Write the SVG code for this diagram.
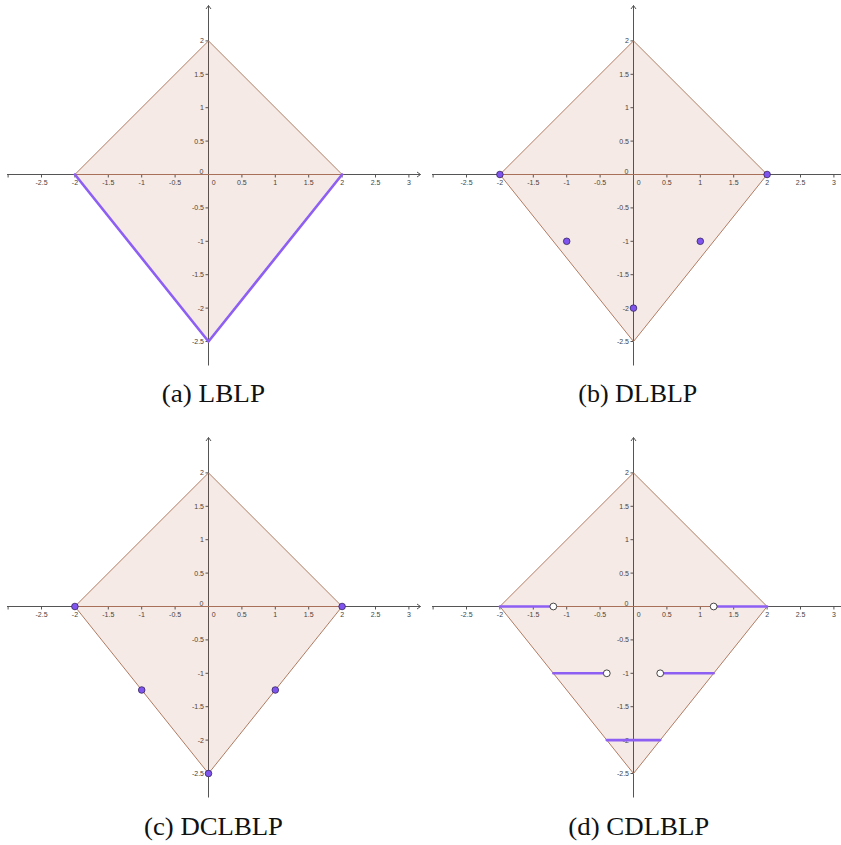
<svg xmlns="http://www.w3.org/2000/svg" width="841" height="845" viewBox="0 0 841 845">
<style>
.ax{stroke:#555;stroke-width:1;fill:none}
.tk{font-family:"Liberation Sans",Arial,sans-serif;font-size:7px;fill:#444}
.xl{text-anchor:middle}
.yl{text-anchor:end}
.poly{fill:rgba(153,51,0,0.1);stroke:#b07c63;stroke-width:1;stroke-linejoin:round}
.edge{stroke:#a87058;stroke-width:1}
.pl{stroke:#8d5ff2;stroke-width:2.6;fill:none;stroke-linecap:round;stroke-linejoin:round}
.pt{fill:#8055ef;stroke:#352560;stroke-width:0.8}
.op{fill:#fff;stroke:#333;stroke-width:0.9}
.cap{font-family:"Liberation Serif","Times New Roman",serif;font-size:25px;fill:#111}
</style>
<rect width="841" height="845" fill="#fff"/>

<g id="panel-a" transform="translate(208.5,174.5)">
<g class="ax">
<line x1="-201.5" y1="0" x2="212" y2="0"/>
<polyline points="208.5,-2.5 212,0 208.5,2.5"/>
<line x1="0" y1="-169" x2="0" y2="191"/>
<polyline points="-2.5,-165.5 0,-169 2.5,-165.5"/>
<path d="M-200.4 0v3M-167 0v3M-133.6 0v3M-100.2 0v3M-66.8 0v3M-33.4 0v3M33.4 0v3M66.8 0v3M100.2 0v3M133.6 0v3M167 0v3M200.4 0v3M0 -133.6h-3M0 -100.2h-3M0 -66.8h-3M0 -33.4h-3M0 33.4h-3M0 66.8h-3M0 100.2h-3M0 133.6h-3M0 167h-3"/>
</g>
<g class="tk xl">
<text x="-167" y="10">-2.5</text><text x="-133.6" y="10">-2</text><text x="-100.2" y="10">-1.5</text><text x="-66.8" y="10">-1</text><text x="-33.4" y="10">-0.5</text><text x="5.2" y="10">0</text><text x="33.4" y="10">0.5</text><text x="66.8" y="10">1</text><text x="100.2" y="10">1.5</text><text x="133.6" y="10">2</text><text x="167" y="10">2.5</text><text x="200.4" y="10">3</text>
</g>
<g class="tk yl">
<text x="-4.5" y="-131.1">2</text><text x="-4.5" y="-97.7">1.5</text><text x="-4.5" y="-64.3">1</text><text x="-4.5" y="-30.9">0.5</text><text x="-5" y="-1">0</text><text x="-4.5" y="35.9">-0.5</text><text x="-4.5" y="69.3">-1</text><text x="-4.5" y="102.7">-1.5</text><text x="-4.5" y="136.1">-2</text><text x="-4.5" y="169.5">-2.5</text>
</g>
<path class="poly" d="M-133.6 0L0 -133.6L133.6 0L0 167Z"/>
<line class="edge" x1="-133.6" y1="0" x2="133.6" y2="0"/>
<polyline class="pl" points="-133.6,0 0,167 133.6,0"/>
</g>

<g id="panel-b" transform="translate(633.5,174.5)">
<g class="ax">
<line x1="-201.5" y1="0" x2="212" y2="0"/>
<line x1="0" y1="-169" x2="0" y2="191"/>
<polyline points="-2.5,-165.5 0,-169 2.5,-165.5"/>
<path d="M-200.4 0v3M-167 0v3M-133.6 0v3M-100.2 0v3M-66.8 0v3M-33.4 0v3M33.4 0v3M66.8 0v3M100.2 0v3M133.6 0v3M167 0v3M200.4 0v3M0 -133.6h-3M0 -100.2h-3M0 -66.8h-3M0 -33.4h-3M0 33.4h-3M0 66.8h-3M0 100.2h-3M0 133.6h-3M0 167h-3"/>
</g>
<g class="tk xl">
<text x="-167" y="10">-2.5</text><text x="-133.6" y="10">-2</text><text x="-100.2" y="10">-1.5</text><text x="-66.8" y="10">-1</text><text x="-33.4" y="10">-0.5</text><text x="5.2" y="10">0</text><text x="33.4" y="10">0.5</text><text x="66.8" y="10">1</text><text x="100.2" y="10">1.5</text><text x="133.6" y="10">2</text><text x="167" y="10">2.5</text><text x="200.4" y="10">3</text>
</g>
<g class="tk yl">
<text x="-4.5" y="-131.1">2</text><text x="-4.5" y="-97.7">1.5</text><text x="-4.5" y="-64.3">1</text><text x="-4.5" y="-30.9">0.5</text><text x="-5" y="-1">0</text><text x="-4.5" y="35.9">-0.5</text><text x="-4.5" y="69.3">-1</text><text x="-4.5" y="102.7">-1.5</text><text x="-4.5" y="136.1">-2</text><text x="-4.5" y="169.5">-2.5</text>
</g>
<path class="poly" d="M-133.6 0L0 -133.6L133.6 0L0 167Z"/>
<line class="edge" x1="-133.6" y1="0" x2="133.6" y2="0"/>
<circle class="pt" cx="-133.6" cy="0" r="3.3"/>
<circle class="pt" cx="133.6" cy="0" r="3.3"/>
<circle class="pt" cx="-66.8" cy="66.8" r="3.3"/>
<circle class="pt" cx="66.8" cy="66.8" r="3.3"/>
<circle class="pt" cx="0" cy="133.6" r="3.3"/>
</g>

<g id="panel-c" transform="translate(208.5,606.5)">
<g class="ax">
<line x1="-201.5" y1="0" x2="212" y2="0"/>
<polyline points="208.5,-2.5 212,0 208.5,2.5"/>
<line x1="0" y1="-169" x2="0" y2="191"/>
<polyline points="-2.5,-165.5 0,-169 2.5,-165.5"/>
<path d="M-200.4 0v3M-167 0v3M-133.6 0v3M-100.2 0v3M-66.8 0v3M-33.4 0v3M33.4 0v3M66.8 0v3M100.2 0v3M133.6 0v3M167 0v3M200.4 0v3M0 -133.6h-3M0 -100.2h-3M0 -66.8h-3M0 -33.4h-3M0 33.4h-3M0 66.8h-3M0 100.2h-3M0 133.6h-3M0 167h-3"/>
</g>
<g class="tk xl">
<text x="-167" y="10">-2.5</text><text x="-133.6" y="10">-2</text><text x="-100.2" y="10">-1.5</text><text x="-66.8" y="10">-1</text><text x="-33.4" y="10">-0.5</text><text x="5.2" y="10">0</text><text x="33.4" y="10">0.5</text><text x="66.8" y="10">1</text><text x="100.2" y="10">1.5</text><text x="133.6" y="10">2</text><text x="167" y="10">2.5</text><text x="200.4" y="10">3</text>
</g>
<g class="tk yl">
<text x="-4.5" y="-131.1">2</text><text x="-4.5" y="-97.7">1.5</text><text x="-4.5" y="-64.3">1</text><text x="-4.5" y="-30.9">0.5</text><text x="-5" y="-1">0</text><text x="-4.5" y="35.9">-0.5</text><text x="-4.5" y="69.3">-1</text><text x="-4.5" y="102.7">-1.5</text><text x="-4.5" y="136.1">-2</text><text x="-4.5" y="169.5">-2.5</text>
</g>
<path class="poly" d="M-133.6 0L0 -133.6L133.6 0L0 167Z"/>
<line class="edge" x1="-133.6" y1="0" x2="133.6" y2="0"/>
<circle class="pt" cx="-133.6" cy="0" r="3.3"/>
<circle class="pt" cx="133.6" cy="0" r="3.3"/>
<circle class="pt" cx="-66.8" cy="83.5" r="3.3"/>
<circle class="pt" cx="66.8" cy="83.5" r="3.3"/>
<circle class="pt" cx="0" cy="167" r="3.3"/>
</g>

<g id="panel-d" transform="translate(633.5,606.5)">
<g class="ax">
<line x1="-201.5" y1="0" x2="212" y2="0"/>
<line x1="0" y1="-169" x2="0" y2="191"/>
<polyline points="-2.5,-165.5 0,-169 2.5,-165.5"/>
<path d="M-200.4 0v3M-167 0v3M-133.6 0v3M-100.2 0v3M-66.8 0v3M-33.4 0v3M33.4 0v3M66.8 0v3M100.2 0v3M133.6 0v3M167 0v3M200.4 0v3M0 -133.6h-3M0 -100.2h-3M0 -66.8h-3M0 -33.4h-3M0 33.4h-3M0 66.8h-3M0 100.2h-3M0 133.6h-3M0 167h-3"/>
</g>
<g class="tk xl">
<text x="-167" y="10">-2.5</text><text x="-133.6" y="10">-2</text><text x="-100.2" y="10">-1.5</text><text x="-66.8" y="10">-1</text><text x="-33.4" y="10">-0.5</text><text x="5.2" y="10">0</text><text x="33.4" y="10">0.5</text><text x="66.8" y="10">1</text><text x="100.2" y="10">1.5</text><text x="133.6" y="10">2</text><text x="167" y="10">2.5</text><text x="200.4" y="10">3</text>
</g>
<g class="tk yl">
<text x="-4.5" y="-131.1">2</text><text x="-4.5" y="-97.7">1.5</text><text x="-4.5" y="-64.3">1</text><text x="-4.5" y="-30.9">0.5</text><text x="-5" y="-1">0</text><text x="-4.5" y="35.9">-0.5</text><text x="-4.5" y="69.3">-1</text><text x="-4.5" y="102.7">-1.5</text><text x="-4.5" y="136.1">-2</text><text x="-4.5" y="169.5">-2.5</text>
</g>
<path class="poly" d="M-133.6 0L0 -133.6L133.6 0L0 167Z"/>
<line class="edge" x1="-133.6" y1="0" x2="133.6" y2="0"/>
<path class="pl" d="M-133.6 0H-80.16M80.16 0H133.6M-80.16 66.8H-26.72M26.72 66.8H80.16M-26.72 133.6H26.72"/>
<circle class="op" cx="-80.16" cy="0" r="3.4"/>
<circle class="op" cx="80.16" cy="0" r="3.4"/>
<circle class="op" cx="-26.72" cy="66.8" r="3.4"/>
<circle class="op" cx="26.72" cy="66.8" r="3.4"/>
</g>

<g id="captions">
<text id="cap-a" class="cap" x="161.7" y="402" textLength="103.3" lengthAdjust="spacingAndGlyphs">(a) LBLP</text>
<text id="cap-b" class="cap" x="578.3" y="402" textLength="119" lengthAdjust="spacingAndGlyphs">(b) DLBLP</text>
<text id="cap-c" class="cap" x="144" y="834.5" textLength="139" lengthAdjust="spacingAndGlyphs">(c) DCLBLP</text>
<text id="cap-d" class="cap" x="568.3" y="834.5" textLength="141" lengthAdjust="spacingAndGlyphs">(d) CDLBLP</text>
</g>
</svg>
